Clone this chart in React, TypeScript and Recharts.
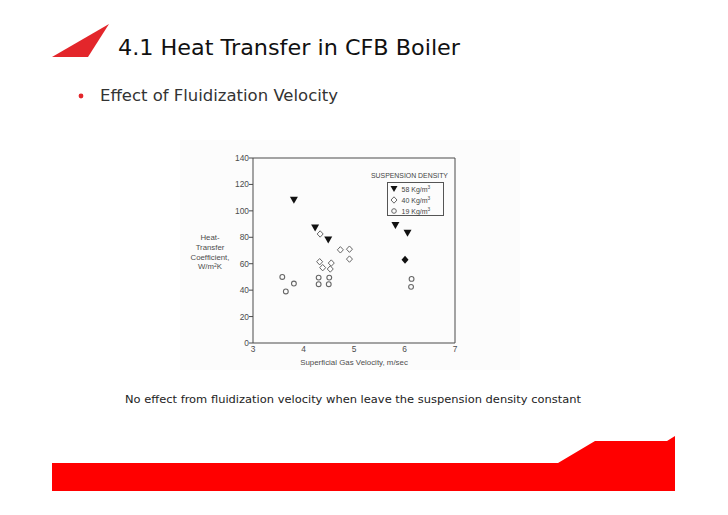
import { ScatterChart, Scatter, XAxis, YAxis, Legend } from "recharts";

// velocity (m/s) and heat-transfer coefficient (W/m2K) per suspension density
const velocity58 = [3.81, 4.23, 4.49, 5.82, 6.06];
const coef58 = [108, 87, 78, 89, 83];
const velocity40 = [4.33, 4.73, 4.91, 4.91, 4.32, 4.38, 4.55, 4.53];
const coef40 = [82.5, 70.5, 71, 63.5, 61.5, 57, 60.5, 56];
const velocity19 = [3.58, 3.65, 3.81, 4.3, 4.3, 4.51, 4.5, 6.14, 6.13];
const coef19 = [50, 39, 45, 49.5, 44.5, 49.5, 44.5, 48.5, 42.5];
// filled point where markers overlap at ~6 m/s
const velocityOverlap = [6.01];
const coefOverlap = [63];

const xTicks = [3, 4, 5, 6, 7];
const yTicks = [0, 20, 40, 60, 80, 100, 120, 140];
const legendItems = ["58 Kg/m", "40 Kg/m", "19 Kg/m"];

const zip = (xs: number[], ys: number[]) => xs.map((x, i) => ({ x, y: ys[i] }));

const AXIS = "#4a4a4a";
const TEXT = "#4d4d4d";
const FONT = "'Liberation Sans', Arial, sans-serif";

const TriangleDown = ({ cx, cy }: any) => (
  <polygon
    points={`${cx - 4},${cy - 3.5} ${cx + 4},${cy - 3.5} ${cx},${cy + 3.5}`}
    fill="#111"
  />
);

const Diamond = ({ cx, cy }: any) => (
  <polygon
    points={`${cx},${cy - 3.2} ${cx + 3},${cy} ${cx},${cy + 3.2} ${cx - 3},${cy}`}
    fill="#fff"
    stroke="#666"
    strokeWidth={1}
  />
);

const FilledDiamond = ({ cx, cy }: any) => (
  <polygon
    points={`${cx},${cy - 4} ${cx + 3.5},${cy} ${cx},${cy + 4} ${cx - 3.5},${cy}`}
    fill="#111"
  />
);

const Ring = ({ cx, cy }: any) => (
  <circle cx={cx} cy={cy} r={2.4} fill="none" stroke="#666" strokeWidth={1.1} />
);

const markerFor = [
  <svg width="8" height="8" key="a"><polygon points="0.5,1 7.5,1 4,7" fill="#111" /></svg>,
  <svg width="8" height="8" key="b"><polygon points="4,0.8 7,4 4,7.2 1,4" fill="#fff" stroke="#666" /></svg>,
  <svg width="8" height="8" key="c"><circle cx="4" cy="4" r="2.3" fill="none" stroke="#666" /></svg>,
];

function DensityLegend() {
  return (
    <div style={{ fontFamily: FONT, color: "#444", position: "relative", width: 90, height: 50 }}>
      <div style={{ position: "absolute", left: 0, top: 0, fontSize: 6.9, lineHeight: "9px", whiteSpace: "nowrap" }}>
        SUSPENSION DENSITY
      </div>
      <div
        style={{
          position: "absolute",
          left: 16,
          top: 10.5,
          width: 57,
          height: 34,
          border: "1px solid #555",
          boxSizing: "border-box",
          paddingTop: 0.5,
        }}
      >
        {legendItems.map((t) => (
          <div
            key={t}
            style={{ display: "flex", alignItems: "center", height: 11, paddingLeft: 1.5, fontSize: 7, lineHeight: "11px" }}
          >
            {markerFor[legendItems.indexOf(t)]}
            <span style={{ marginLeft: 4, whiteSpace: "nowrap" }}>
              {t}
              <sup style={{ fontSize: 4.8, verticalAlign: "3px" }}>3</sup>
            </span>
          </div>
        ))}
      </div>
    </div>
  );
}

const YTitle = () => {
  const cx = 210;
  const top = 240;
  const lines = ["Heat-", "Transfer", "Coefficient,"];
  return (
    <text x={cx} y={top} textAnchor="middle" fontSize={7.8} fill={TEXT} fontFamily={FONT}>
      {lines.map((l, i) => (
        <tspan key={l} x={cx} y={top + i * 9.8}>
          {l}
        </tspan>
      ))}
      <tspan x={cx} y={top + 3 * 9.8}>
        W/m<tspan fontSize={5.2} dy={-2.8}>2</tspan>
        <tspan dy={2.8}>K</tspan>
      </tspan>
    </text>
  );
};

const XTitle = () => (
  <text x={354} y={365} textAnchor="middle" fontSize={7.9} fill={TEXT} fontFamily={FONT}>
    Superficial Gas Velocity, m/sec
  </text>
);

function SlideDecor() {
  return (
    <svg width={728} height={515} style={{ position: "absolute", left: 0, top: 0 }}>
      <polygon points="52,57 109,24 88,57" fill="#e3262b" />
      <text
        x={118}
        y={55}
        fontFamily="'DejaVu Sans', sans-serif"
        fontSize={22}
        fill="#111"
        textLength={342}
        lengthAdjust="spacingAndGlyphs"
      >
        4.1 Heat Transfer in CFB Boiler
      </text>
      <circle cx={81} cy={96} r={2.4} fill="#e3262b" />
      <text
        x={100}
        y={101}
        fontFamily="'DejaVu Sans', sans-serif"
        fontSize={16}
        fill="#333"
        textLength={238}
        lengthAdjust="spacingAndGlyphs"
      >
        Effect of Fluidization Velocity
      </text>
      <rect x={180} y={140} width={340} height={230} fill="#fcfcfc" />
      <text
        x={125}
        y={403}
        fontFamily="'DejaVu Sans', sans-serif"
        fontSize={11}
        fill="#222"
        textLength={456}
        lengthAdjust="spacingAndGlyphs"
      >
        No effect from fluidization velocity when leave the suspension density constant
      </text>
      <polygon points="52,463 558,463 595,441 667,441 675,436 675,491 52,491" fill="#ff0000" />
    </svg>
  );
}

export default function App() {
  return (
    <div style={{ position: "relative", width: 728, height: 515, background: "#fff" }}>
      <style>{"body{margin:0}"}</style>
      <SlideDecor />
      <div style={{ position: "absolute", left: 0, top: 0 }}>
        <ScatterChart width={728} height={515} margin={{ top: 158, right: 273, bottom: 152, left: 213 }}>
          <XAxis
            xAxisId="b"
            type="number"
            dataKey="x"
            domain={[3, 7]}
            ticks={xTicks}
            height={20}
            tickLine={false}
            tickSize={2}
            tickMargin={1.5}
            axisLine={{ stroke: AXIS }}
            tick={{ fontSize: 8.4, fill: TEXT, fontFamily: FONT }}
            label={<XTitle />}
          />
          <XAxis
            xAxisId="t"
            orientation="top"
            mirror
            type="number"
            domain={[3, 7]}
            ticks={xTicks}
            tick={false}
            tickSize={4}
            axisLine={{ stroke: AXIS }}
            tickLine={{ stroke: AXIS }}
          />
          <YAxis
            yAxisId="l"
            type="number"
            dataKey="y"
            domain={[0, 140]}
            ticks={yTicks}
            width={40}
            tickSize={4}
            tickMargin={0}
            axisLine={{ stroke: AXIS }}
            tickLine={{ stroke: AXIS }}
            tick={{ fontSize: 8.4, fill: TEXT, fontFamily: FONT }}
            label={<YTitle />}
          />
          <YAxis
            yAxisId="r"
            orientation="right"
            mirror
            type="number"
            domain={[0, 140]}
            ticks={yTicks}
            tick={false}
            tickSize={4}
            axisLine={{ stroke: AXIS }}
            tickLine={{ stroke: AXIS }}
          />
          <Legend
            layout="vertical"
            align="center"
            verticalAlign="middle"
            content={() => <DensityLegend />}
            wrapperStyle={{ left: 371, top: 171, width: 90, height: 50 }}
          />
          <Scatter name="58" xAxisId="b" yAxisId="l" data={zip(velocity58, coef58)} shape={<TriangleDown />} isAnimationActive={false} />
          <Scatter name="40" xAxisId="b" yAxisId="l" data={zip(velocity40, coef40)} shape={<Diamond />} isAnimationActive={false} />
          <Scatter name="19" xAxisId="b" yAxisId="l" data={zip(velocity19, coef19)} shape={<Ring />} isAnimationActive={false} />
          <Scatter
            name="overlap"
            legendType="none"
            xAxisId="b"
            yAxisId="l"
            data={zip(velocityOverlap, coefOverlap)}
            shape={<FilledDiamond />}
            isAnimationActive={false}
          />
        </ScatterChart>
      </div>
    </div>
  );
}
